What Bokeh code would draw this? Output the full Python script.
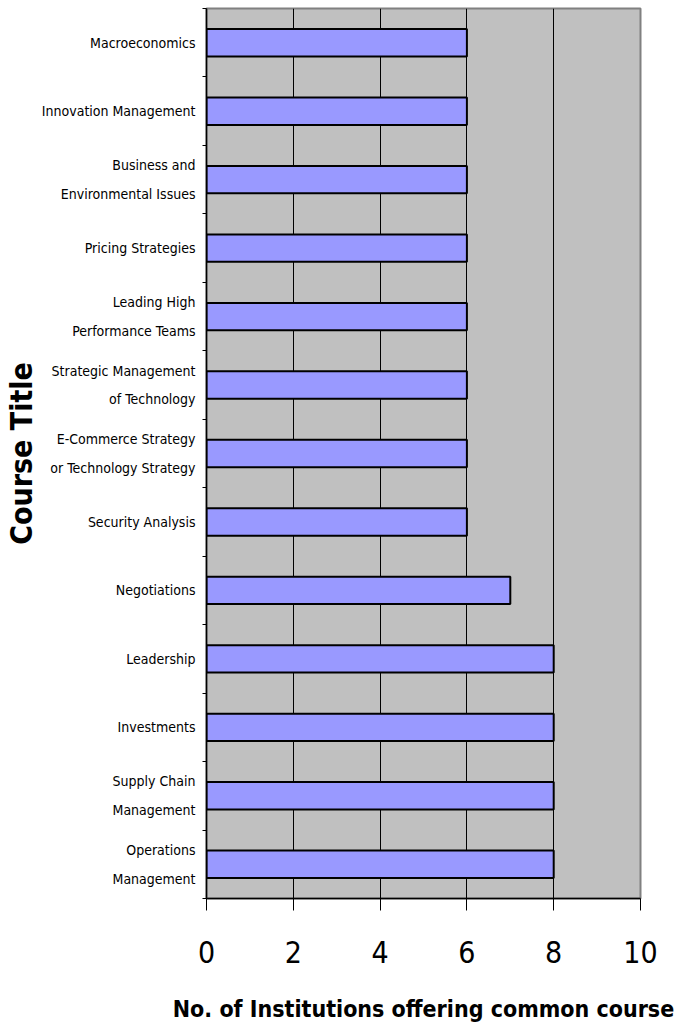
from bokeh.plotting import figure
from bokeh.models import FixedTicker, ColumnDataSource
from bokeh.embed import file_html
from bokeh.resources import INLINE

# Top to bottom order as in the chart
courses = [
    "Macroeconomics",
    "Innovation Management",
    "Business and\nEnvironmental Issues",
    "Pricing Strategies",
    "Leading High\nPerformance Teams",
    "Strategic Management\nof Technology",
    "E-Commerce Strategy\nor Technology Strategy",
    "Security Analysis",
    "Negotiations",
    "Leadership",
    "Investments",
    "Supply Chain\nManagement",
    "Operations\nManagement",
]
institutions = [6, 6, 6, 6, 6, 6, 6, 6, 7, 8, 8, 8, 8]
x_ticks = [0, 2, 4, 6, 8, 10]

n = len(courses)
ypos = [n - 1 - i + 0.5 for i in range(n)]
src = ColumnDataSource(dict(y=ypos, v=institutions, name=courses))

FONT = "DejaVu Sans Condensed, Roboto, sans-serif"

p = figure(width=688, height=1036, x_range=(0, 10), y_range=(0, n),
           output_backend="svg", toolbar_location=None,
           min_border_left=204, min_border_right=48,
           min_border_top=8, min_border_bottom=138)

p.background_fill_color = "#C0C0C0"
p.border_fill_color = "white"
p.outline_line_color = "#808080"
p.outline_line_width = 2

p.hbar(y="y", right="v", left=0, height=0.4, source=src,
       fill_color="#9999FF", line_color="black", line_width=2)

# grid
p.xgrid.ticker = FixedTicker(ticks=[2, 4, 6, 8])
p.xgrid.grid_line_color = "black"
p.xgrid.grid_line_width = 1
p.ygrid.grid_line_color = None

# x axis
p.xaxis.ticker = FixedTicker(ticks=x_ticks)
p.xaxis.axis_line_color = "black"
p.xaxis.axis_line_width = 1.5
p.xaxis.major_tick_line_color = "black"
p.xaxis.major_tick_out = 12
p.xaxis.major_tick_in = 0
p.xaxis.minor_tick_line_color = None
p.xaxis.major_label_text_font = FONT
p.xaxis.major_label_text_font_size = "30px"
p.xaxis.major_label_text_color = "black"
p.xaxis.major_label_standoff = 30
p.xaxis.axis_label = "No. of Institutions offering common course"
p.xaxis.axis_label_text_font = FONT
p.xaxis.axis_label_text_font_style = "bold"
p.xaxis.axis_label_text_font_size = "23px"
p.xaxis.axis_label_text_color = "black"
p.xaxis.axis_label_standoff = 30

# y axis
p.yaxis.ticker = FixedTicker(ticks=ypos, minor_ticks=list(range(n + 1)))
p.yaxis.major_label_overrides = {y: c for y, c in zip(ypos, courses)}
p.yaxis.axis_line_color = "black"
p.yaxis.axis_line_width = 1.5
p.yaxis.major_tick_out = 0
p.yaxis.major_tick_in = 0
p.yaxis.minor_tick_out = 4
p.yaxis.minor_tick_in = 0
p.yaxis.minor_tick_line_color = "black"
p.yaxis.major_label_text_font = FONT
p.yaxis.major_label_text_font_size = "14px"
p.yaxis.major_label_text_color = "black"
p.yaxis.major_label_text_line_height = 1.8
p.yaxis.major_label_standoff = 7
p.yaxis.axis_label = "Course Title"
p.yaxis.axis_label_text_font = FONT
p.yaxis.axis_label_text_font_style = "bold"
p.yaxis.axis_label_text_font_size = "30px"
p.yaxis.axis_label_text_color = "black"
p.yaxis.axis_label_standoff = 0

open("out.html", "w").write(file_html(p, INLINE))
